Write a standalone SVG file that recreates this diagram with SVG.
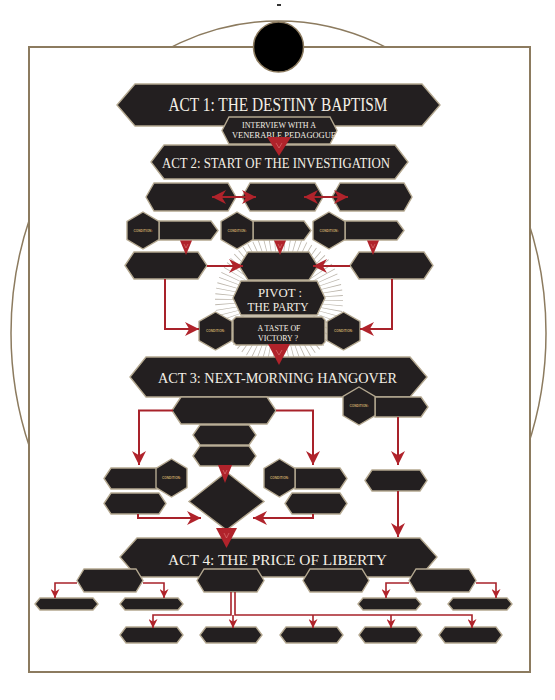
<svg xmlns="http://www.w3.org/2000/svg" xmlns:xlink="http://www.w3.org/1999/xlink" width="555" height="700" viewBox="0 0 555 700">
<defs>
<style>
.n{fill:#231f20;stroke:#b4a890;stroke-width:1.4;stroke-linejoin:miter}
.c{fill:#231f20;stroke:#b4a890;stroke-width:1.4}
.t{font-family:"Liberation Serif","Times New Roman",serif;fill:#f4efe6;text-anchor:middle}
.ct{font-family:"Liberation Sans",Arial,sans-serif;font-size:3.4px;fill:#c9a868;text-anchor:middle;font-weight:bold}
.l{fill:none;stroke:#a8222a;stroke-width:2}
.ls{fill:none;stroke:#a8222a;stroke-width:1.6}
.tri{fill:#b0232b}
.v{fill:none;stroke:#e07a7a;stroke-width:0.6}
</style>
<marker id="ah" viewBox="0 0 10 10" refX="10" refY="5" markerUnits="userSpaceOnUse" markerWidth="14" markerHeight="14" orient="auto-start-reverse">
<path d="M0,0 L10,5 L0,10 L3,5 z" fill="#b0232b"/>
</marker>
<marker id="as" viewBox="0 0 10 10" refX="10" refY="5" markerUnits="userSpaceOnUse" markerWidth="9" markerHeight="9" orient="auto">
<path d="M0,0 L10,5 L0,10 L3,5 z" fill="#b0232b"/>
</marker>
</defs>

<g id="frame">
<ellipse cx="278.5" cy="333" rx="267.5" ry="312" fill="none" stroke="#8c7b5f" stroke-width="1.5"/>
<rect x="29" y="47" width="501" height="625" fill="#ffffff" stroke="#8c7b5f" stroke-width="2"/>
<circle cx="278.5" cy="47" r="25" fill="#000" stroke="#8c7b5f" stroke-width="1.5"/>
<rect x="277" y="4" width="4" height="2" fill="#333"/>
</g>

<g id="rays">
<circle cx="279" cy="300" r="51" fill="none" stroke="#bdb7ad" stroke-width="26" stroke-dasharray="0.7 3.75"/>
</g>

<g id="act1"><polygon class="n" points="117,105 135,84 422,84 440,105 422,126 135,126"/>
<text class="t" x="278" y="111" font-size="18" textLength="219" lengthAdjust="spacingAndGlyphs">ACT 1: THE DESTINY BAPTISM</text></g>

<g id="act2"><polygon class="n" points="151,162 164,145 395,145 408,162 395,179 164,179"/>
<text class="t" x="276" y="168" font-size="15" textLength="228" lengthAdjust="spacingAndGlyphs">ACT 2: START OF THE INVESTIGATION</text></g>

<g id="interview"><polygon class="n" points="222,130.5 229,117 330,117 337,130.5 330,144 229,144"/>
<text class="t" x="279" y="127.5" font-size="7.5" textLength="74" lengthAdjust="spacingAndGlyphs">INTERVIEW WITH A</text>
<text class="t" x="284" y="137.5" font-size="7.5" textLength="104" lengthAdjust="spacingAndGlyphs">VENERABLE PEDAGOGUE</text></g>

<g id="r1a"><polygon class="n" points="146,197 154,183 228,183 236,197 228,211 154,211"/></g>
<g id="r1b"><polygon class="n" points="242,197 250,183 315,183 323,197 315,211 250,211"/></g>
<g id="r1c"><polygon class="n" points="332,197 340,183 404,183 412,197 404,211 340,211"/></g>

<g id="box1"><polygon class="n" points="159,221 211,221 218,230.5 211,240 159,240"/></g>
<g id="cond1"><polygon class="c" points="143,212 159,221.5 159,239.5 143,249 127,239.5 127,221.5"/><text class="ct" x="143" y="231.7" textLength="19" lengthAdjust="spacingAndGlyphs">CONDITION:</text></g>
<g id="box2"><polygon class="n" points="253,221 304,221 311,230.5 304,240 253,240"/></g>
<g id="cond2"><polygon class="c" points="237,212 253,221.5 253,239.5 237,249 221,239.5 221,221.5"/><text class="ct" x="237" y="231.7" textLength="19" lengthAdjust="spacingAndGlyphs">CONDITION:</text></g>
<g id="box3"><polygon class="n" points="345,221 397,221 404,230.5 397,240 345,240"/></g>
<g id="cond3"><polygon class="c" points="329,212 345,221.5 345,239.5 329,249 313,239.5 313,221.5"/><text class="ct" x="329" y="231.7" textLength="19" lengthAdjust="spacingAndGlyphs">CONDITION:</text></g>

<g id="r3l"><polygon class="n" points="125,265.5 134,252 198,252 207,265.5 198,279 134,279"/></g>
<g id="r3m"><polygon class="n" points="239,266 248,252 309,252 318,266 309,280 248,280"/></g>
<g id="r3r"><polygon class="n" points="350,265.5 359,252 424,252 433,265.5 424,279 359,279"/></g>

<g id="pivot"><polygon class="n" points="233,298 241,281 317,281 325,298 317,315 241,315"/>
<text class="t" x="280" y="296.5" font-size="12.5" textLength="44" lengthAdjust="spacingAndGlyphs">PIVOT :</text>
<text class="t" x="278" y="311" font-size="12.5" textLength="61" lengthAdjust="spacingAndGlyphs">THE PARTY</text></g>

<g id="victory"><polygon class="n" points="233,320 236,317 322,317 325,320 325,342 322,345 236,345 233,342"/>
<text class="t" x="279" y="331" font-size="8.5" textLength="43" lengthAdjust="spacingAndGlyphs">A TASTE OF</text>
<text class="t" x="278" y="340.5" font-size="8.5" textLength="40" lengthAdjust="spacingAndGlyphs">VICTORY ?</text></g>
<g id="condvl"><polygon class="c" points="215.5,312 232,321.5 232,340.5 215.5,350 199,340.5 199,321.5"/><text class="ct" x="215.5" y="332.2" textLength="19" lengthAdjust="spacingAndGlyphs">CONDITION:</text></g>
<g id="condvr"><polygon class="c" points="343.5,312 360,321.5 360,340.5 343.5,350 327,340.5 327,321.5"/><text class="ct" x="343.5" y="332.2" textLength="19" lengthAdjust="spacingAndGlyphs">CONDITION:</text></g>

<g id="act3"><polygon class="n" points="130,377 146,357 410,357 427,377 410,397 146,397"/>
<text class="t" x="277.5" y="383" font-size="15" textLength="239" lengthAdjust="spacingAndGlyphs">ACT 3: NEXT-MORNING HANGOVER</text></g>

<g id="d1"><polygon class="n" points="172,410.5 181,397 267,397 276,410.5 267,424 181,424"/></g>
<g id="s1"><polygon class="n" points="193,435 200,425 249,425 256,435 249,445 200,445"/></g>
<g id="s2"><polygon class="n" points="193,456 200,446 249,446 256,456 249,466 200,466"/></g>
<g id="boxr"><polygon class="n" points="375,397 421,397 428,407 421,417 375,417"/></g>
<g id="condr"><polygon class="c" points="359,387 375,396.5 375,415.5 359,425 343,415.5 343,396.5"/><text class="ct" x="359" y="407.2" textLength="19" lengthAdjust="spacingAndGlyphs">CONDITION:</text></g>

<g id="ll"><polygon class="n" points="104,478.5 111,468 157,468 157,489 111,489"/></g>
<g id="condll"><polygon class="c" points="171.5,459 187,468.5 187,487.5 171.5,497 156,487.5 156,468.5"/><text class="ct" x="171.5" y="479.2" textLength="19" lengthAdjust="spacingAndGlyphs">CONDITION:</text></g>
<g id="ll2"><polygon class="n" points="104,503.5 111,493 159,493 166,503.5 159,514 111,514"/></g>
<g id="rr"><polygon class="n" points="295,468 340,468 347,478.5 340,489 295,489"/></g>
<g id="condrr"><polygon class="c" points="279.5,459 295,468.5 295,487.5 279.5,497 264,487.5 264,468.5"/><text class="ct" x="279.5" y="479.2" textLength="19" lengthAdjust="spacingAndGlyphs">CONDITION:</text></g>
<g id="rr2"><polygon class="n" points="285,503.5 292,493 340,493 347,503.5 340,514 292,514"/></g>
<g id="fr"><polygon class="n" points="365,480.5 372,470 420,470 427,480.5 420,491 372,491"/></g>
<g id="diamond"><polygon class="n" points="226.5,472 264,501.5 226.5,530 189,501.5"/></g>

<g id="act4"><polygon class="n" points="120,557 137,538 420,538 437,557 420,577 137,577"/>
<text class="t" x="277.5" y="565" font-size="15" textLength="219" lengthAdjust="spacingAndGlyphs">ACT 4: THE PRICE OF LIBERTY</text></g>

<g id="b1"><polygon class="n" points="77,580.5 84,569 136,569 143,580.5 136,592 84,592"/></g>
<g id="b2"><polygon class="n" points="197,580.5 204,569 257,569 264,580.5 257,592 204,592"/></g>
<g id="b3"><polygon class="n" points="303,580.5 310,569 362,569 369,580.5 362,592 310,592"/></g>
<g id="b4"><polygon class="n" points="409,580.5 416,569 469,569 476,580.5 469,592 416,592"/></g>

<g id="l1"><polygon class="n" points="35,604 40,598 93,598 98,604 93,610 40,610"/></g>
<g id="l2"><polygon class="n" points="120,604 125,598 178,598 183,604 178,610 125,610"/></g>
<g id="l3"><polygon class="n" points="358,604 363,598 416,598 421,604 416,610 363,610"/></g>
<g id="l4"><polygon class="n" points="448,604 453,598 507,598 512,604 507,610 453,610"/></g>

<g id="e1"><polygon class="n" points="120,635 126,627 177,627 183,635 177,643 126,643"/></g>
<g id="e2"><polygon class="n" points="200,635 206,627 256,627 262,635 256,643 206,643"/></g>
<g id="e3"><polygon class="n" points="280,635 286,627 337,627 343,635 337,643 286,643"/></g>
<g id="e4"><polygon class="n" points="359,635 365,627 416,627 422,635 416,643 365,643"/></g>
<g id="e5"><polygon class="n" points="439,635 445,627 496,627 502,635 496,643 445,643"/></g>

<g id="connectors">
<polygon class="tri" points="267,137 291,137 279,156"/><path class="v" d="M276,143 L279,148 L282,143"/>
<path class="l" d="M212,197 H256" marker-start="url(#ah)" marker-end="url(#ah)"/>
<path class="l" d="M304,197 H348" marker-start="url(#ah)" marker-end="url(#ah)"/>
<polygon class="tri" points="180,240.5 192,240.5 186,255"/><path class="v" d="M184,244 L186,248 L188,244"/>
<polygon class="tri" points="274,240.5 286,240.5 280,255"/><path class="v" d="M278,244 L280,248 L282,244"/>
<polygon class="tri" points="367,240.5 379,240.5 373,255"/><path class="v" d="M371,244 L373,248 L375,244"/>
<path class="l" d="M207,266 H243" marker-end="url(#ah)"/>
<path class="l" d="M350,266 H313" marker-end="url(#ah)"/>
<path class="l" d="M165,279 V329 H199" marker-end="url(#ah)"/>
<path class="l" d="M392,279 V329 H360" marker-end="url(#ah)"/>
<polygon class="tri" points="268,344 290,344 279,365"/><path class="v" d="M276,350 L279,355 L282,350"/>
<path class="l" d="M173,410.5 H139 V465" marker-end="url(#ah)"/>
<path class="l" d="M276,410.5 H313 V465" marker-end="url(#ah)"/>
<path class="l" d="M398,417 V465" marker-end="url(#ah)"/>
<polygon class="tri" points="218,465 232,465 225,483"/><path class="v" d="M223,470 L225,474 L227,470"/>
<path class="l" d="M138,514 V518 H201" marker-end="url(#ah)"/>
<path class="l" d="M313,514 V518 H253" marker-end="url(#ah)"/>
<polygon class="tri" points="216,528 237,528 226.5,548"/><path class="v" d="M224,533 L226.5,538 L229,533"/>
<path class="l" d="M398,491 V537" marker-end="url(#ah)"/>
<path class="ls" d="M77,583 H55 V598" marker-end="url(#as)"/>
<path class="ls" d="M143,583 H164 V598" marker-end="url(#as)"/>
<path class="ls" d="M409,583 H386 V598" marker-end="url(#as)"/>
<path class="ls" d="M476,583 H496 V598" marker-end="url(#as)"/>
<path class="ls" d="M231,592 V615 H153 V628" marker-end="url(#as)"/>
<path class="ls" d="M235,592 V615 H472 V628" marker-end="url(#as)"/>
<path class="ls" d="M233,615 V628" marker-end="url(#as)"/>
<path class="ls" d="M313,615 V628" marker-end="url(#as)"/>
<path class="ls" d="M391,615 V628" marker-end="url(#as)"/>
</g>
</svg>
